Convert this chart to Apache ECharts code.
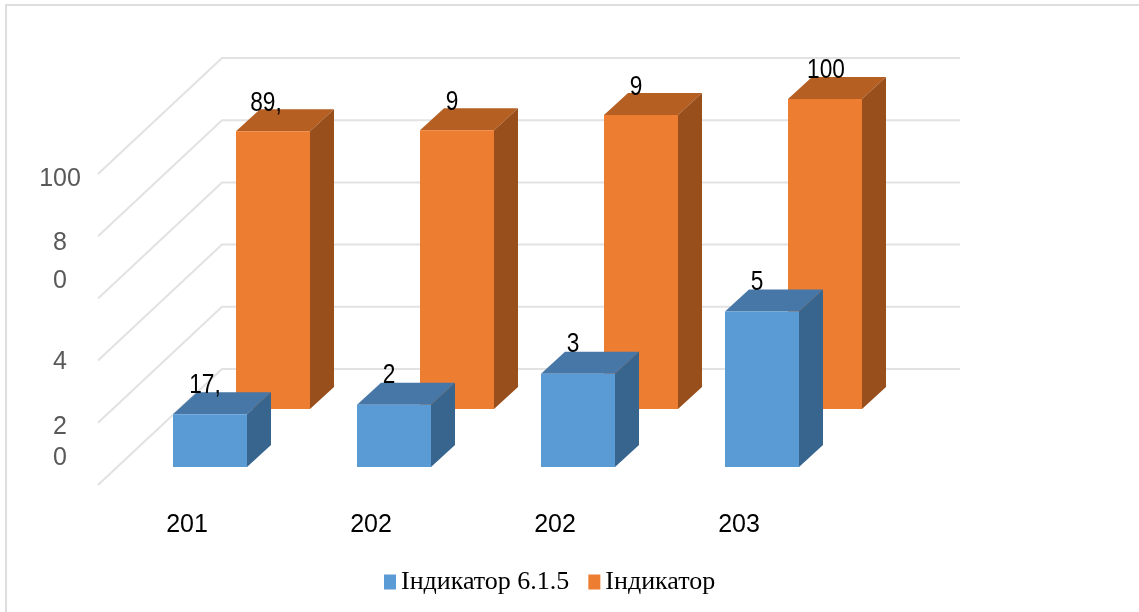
<!DOCTYPE html>
<html>
<head>
<meta charset="utf-8">
<style>html,body{margin:0;padding:0;background:#fff;overflow:hidden}#c{width:1139px;height:612px}</style>
<script src="https://cdn.jsdelivr.net/npm/echarts@6/dist/echarts.min.js"></script>
</head>
<body>
<div id="c"></div>
<script>
const categories = ['201', '202', '202', '203'];
const blueValues = [17, 20, 30, 50];
const orangeValues = [89.3, 89.6, 94.5, 99.7];
const blueLabels = ['17,', '2', '3', '5'];
const orangeLabels = ['89,', '9', '9', '100'];
const wallTicks = [0, 20, 40, 60, 80, 100];
const yLabelValues = [98.4, 77.9, 65.4, 39.4, 18.7, 8.7];
const yLabelTexts = ['100', '8', '0', '4', '2', '0'];
const blueName = 'Індикатор 6.1.5';
const orangeName = 'Індикатор';

const SANS = '"Liberation Sans",sans-serif';

function barSeries(name, values, labels, dx, dy, front, top, side, labelDy, labelDx) {
  return {
    name, type: 'custom', clip: false, z: 3,
    itemStyle: {color: front},
    data: values.map((v, i) => [i, v]),
    encode: {x: 0, y: 1},
    renderItem(params, api) {
      const base = api.coord([api.value(0), 0]);
      const head = api.coord([api.value(0), api.value(1)]);
      const hw = 37, ox = 24, oy = -22;
      const cx = base[0] + dx, by = base[1] + dy, ty = head[1] + dy;
      const l = cx - hw, r = cx + hw;
      return {
        type: 'group',
        children: [
          {type: 'polygon', shape: {points: [[l, ty], [r, ty], [r + ox, ty + oy], [l + ox, ty + oy]]}, style: {fill: top}},
          {type: 'polygon', shape: {points: [[r, ty], [r + ox, ty + oy], [r + ox, by + oy], [r, by]]}, style: {fill: side}},
          {type: 'rect', shape: {x: l, y: ty, width: 2 * hw, height: by - ty}, style: {fill: front}},
          {type: 'text', z2: 10, x: cx + labelDx[params.dataIndex], y: ty + labelDy, scaleX: 0.84, style: {
            x: 0, y: 0, text: labels[params.dataIndex], align: 'center', verticalAlign: 'middle',
            fill: '#000', font: '27px ' + SANS
          }}
        ]
      };
    }
  };
}

const chart = echarts.init(document.getElementById('c'));
chart.setOption({
  animation: false,
  backgroundColor: '#fff',
  graphic: [{
    type: 'rect', z: -1, silent: true,
    shape: {x: 6, y: 5, width: 1200, height: 700},
    style: {fill: '#fff', stroke: '#dedede', lineWidth: 2}
  }],
  grid: {left: 95, width: 736, top: 174, height: 311},
  xAxis: {
    type: 'category', data: categories,
    axisLine: {show: false}, axisTick: {show: false},
    axisLabel: {color: '#000', fontFamily: SANS, fontSize: 25, margin: 28}
  },
  yAxis: {
    type: 'value', min: 0, max: 100,
    axisLine: {show: false}, axisTick: {show: false}, splitLine: {show: false},
    axisLabel: {
      customValues: yLabelValues,
      formatter: v => yLabelTexts[yLabelValues.indexOf(v)],
      color: '#595959', fontFamily: SANS, fontSize: 25, align: 'center', margin: 35
    }
  },
  legend: {
    left: 379, top: 564, itemWidth: 12, itemHeight: 15, itemGap: 19, icon: 'rect',
    data: [blueName, orangeName],
    textStyle: {fontFamily: '"Liberation Serif",serif', fontSize: 26, color: '#000', padding: [0, 0, 0, 0]}
  },
  series: [
    {
      name: 'wall', type: 'custom', clip: false, z: 1, silent: true,
      data: wallTicks.map(v => [0, v]),
      encode: {x: 0, y: 1},
      renderItem(params, api) {
        const p = api.coord([0, api.value(1)]);
        const x0 = 98;
        const gs = params.coordSys;
        const x1 = x0 + 124, y1 = p[1] - 116, x2 = gs.x + gs.width + 129;
        return {type: 'polyline', shape: {points: [[x0, p[1]], [x1, y1], [x2, y1]]},
          style: {fill: null, stroke: '#e2e2e2', lineWidth: 2}};
      }
    },
    barSeries(orangeName, orangeValues, orangeLabels, 86, -76, '#ed7d31', '#b65f23', '#984f1c', -28, [-7, -5, -5, 1]),
    barSeries(blueName, blueValues, blueLabels, 23, -18, '#5b9bd5', '#4677a6', '#37658e', -29, [-5, -5, -5, -5])
  ]
});
</script>
</body>
</html>
